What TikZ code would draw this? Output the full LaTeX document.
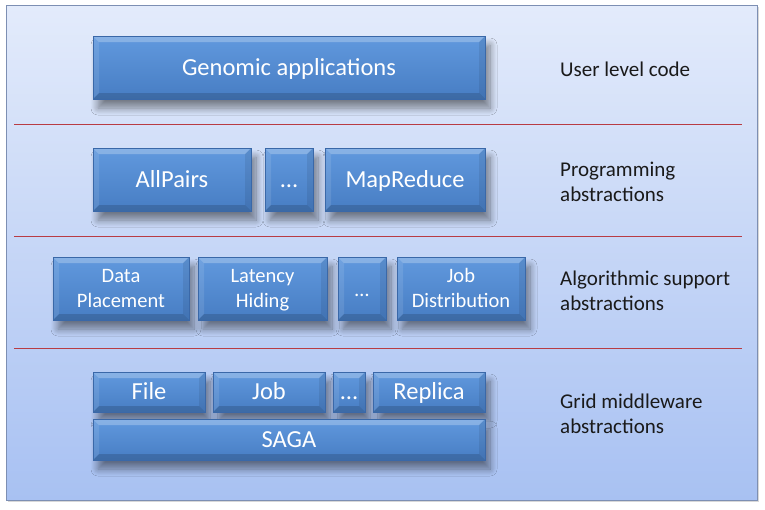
\documentclass[tikz,border=0pt]{standalone}
\usepackage{fontspec}
\setmainfont{Carlito}
\usetikzlibrary{shadows.blur}
\definecolor{bgtop}{HTML}{E3EBFB}
\definecolor{bgbot}{HTML}{A8C1F2}
\definecolor{frame}{HTML}{7D8FB3}
\definecolor{boxtop}{HTML}{6199DE}
\definecolor{boxbot}{HTML}{477DC3}
\definecolor{boxedge}{HTML}{3A68A8}
\definecolor{sep}{HTML}{B83C44}
\definecolor{lbl}{HTML}{1A1A1A}
\tikzset{
  blk/.style={draw=boxedge, line width=0.8pt, top color=boxtop, bottom color=boxbot,
    text=white, align=center, inner sep=0pt, font=\fontsize{24.5}{25}\selectfont,
    text height=15.5pt, text depth=0pt,
    blur shadow={shadow xshift=5pt, shadow yshift=-9pt, shadow opacity=45, shadow blur steps=10, shadow blur radius=7pt},
    path picture={
      \fill[white, opacity=0.25] (path picture bounding box.north west) -- (path picture bounding box.north east)
        -- ([xshift=-6pt,yshift=-6pt]path picture bounding box.north east) -- ([xshift=6pt,yshift=-6pt]path picture bounding box.north west) -- cycle;
      \fill[white, opacity=0.10] (path picture bounding box.north west) -- (path picture bounding box.south west)
        -- ([xshift=6pt,yshift=6pt]path picture bounding box.south west) -- ([xshift=6pt,yshift=-6pt]path picture bounding box.north west) -- cycle;
      \fill[black, opacity=0.15] (path picture bounding box.south west) -- (path picture bounding box.south east)
        -- ([xshift=-6pt,yshift=6pt]path picture bounding box.south east) -- ([xshift=6pt,yshift=6pt]path picture bounding box.south west) -- cycle;
      \fill[black, opacity=0.08] (path picture bounding box.north east) -- (path picture bounding box.south east)
        -- ([xshift=-6pt,yshift=6pt]path picture bounding box.south east) -- ([xshift=-6pt,yshift=-6pt]path picture bounding box.north east) -- cycle;
    }},
  two/.style={font=\fontsize{20.5}{25}\selectfont, text height=38pt, text depth=0pt},
  lab/.style={anchor=west, align=left, text=lbl, inner sep=0pt, font=\fontsize{21}{25}\selectfont},
  sepline/.style={draw=sep, line width=0.9pt}
}
\begin{document}
\begin{tikzpicture}[x=1pt,y=-1pt]
\useasboundingbox (0,0) rectangle (765,509);
\fill[white] (0,0) rectangle (765,509);
\fill[black!30, opacity=0.5] (8,7) rectangle (759,502);
\shade[top color=bgtop, bottom color=bgbot, draw=frame, line width=0.8pt] (6,5) rectangle (757,500);
% separators
\coordinate (s1a) at (14,124); \coordinate (s1b) at (742,124);
\coordinate (s2a) at (14,236); \coordinate (s2b) at (742,236);
\coordinate (s3a) at (14,348); \coordinate (s3b) at (742,348);
\draw[sepline] (s1a) -- (s1b);
\draw[sepline] (s2a) -- (s2b);
\draw[sepline] (s3a) -- (s3b);
% row 1
\node[blk, minimum width=392pt, minimum height=63pt] (gen) at (289,67.5) {Genomic applications};
% row 2
\node[blk, minimum width=158pt, minimum height=63pt] (allp) at (172,179.5) {AllPairs};
\node[blk, minimum width=48pt, minimum height=63pt] (dots2) at (289,179.5) {\dots};
\node[blk, minimum width=160pt, minimum height=63pt] (mapr) at (405,179.5) {MapReduce};
% row 3
\node[blk, two, minimum width=136pt, minimum height=63pt] (dp) at (121,288.5) {Data\\Placement};
\node[blk, two, minimum width=129pt, minimum height=63pt] (lh) at (262.5,288.5) {Latency\\Hiding};
\node[blk, two, minimum width=48pt, minimum height=63pt, text height=15pt] (dots3) at (362,288.5) {\dots};
\node[blk, two, minimum width=128pt, minimum height=63pt] (jd) at (461,288.5) {Job\\Distribution};
% row 4
\node[blk, minimum width=112pt, minimum height=40pt] (file) at (149,392) {File};
\node[blk, minimum width=112pt, minimum height=40pt] (job) at (269,392) {Job};
\node[blk, minimum width=32pt, minimum height=40pt] (dots4) at (349,392) {\dots};
\node[blk, minimum width=112pt, minimum height=40pt] (repl) at (429,392) {Replica};
\node[blk, minimum width=392pt, minimum height=41pt] (saga) at (289,439.5) {SAGA};
% labels
\node[lab] (l1) at (560,69) {User level code};
\node[lab] (l2) at (560,181.5) {Programming\\abstractions};
\node[lab] (l3) at (560,290.5) {Algorithmic support\\abstractions};
\node[lab] (l4) at (560,413.5) {Grid middleware\\abstractions};
\end{tikzpicture}
\end{document}
